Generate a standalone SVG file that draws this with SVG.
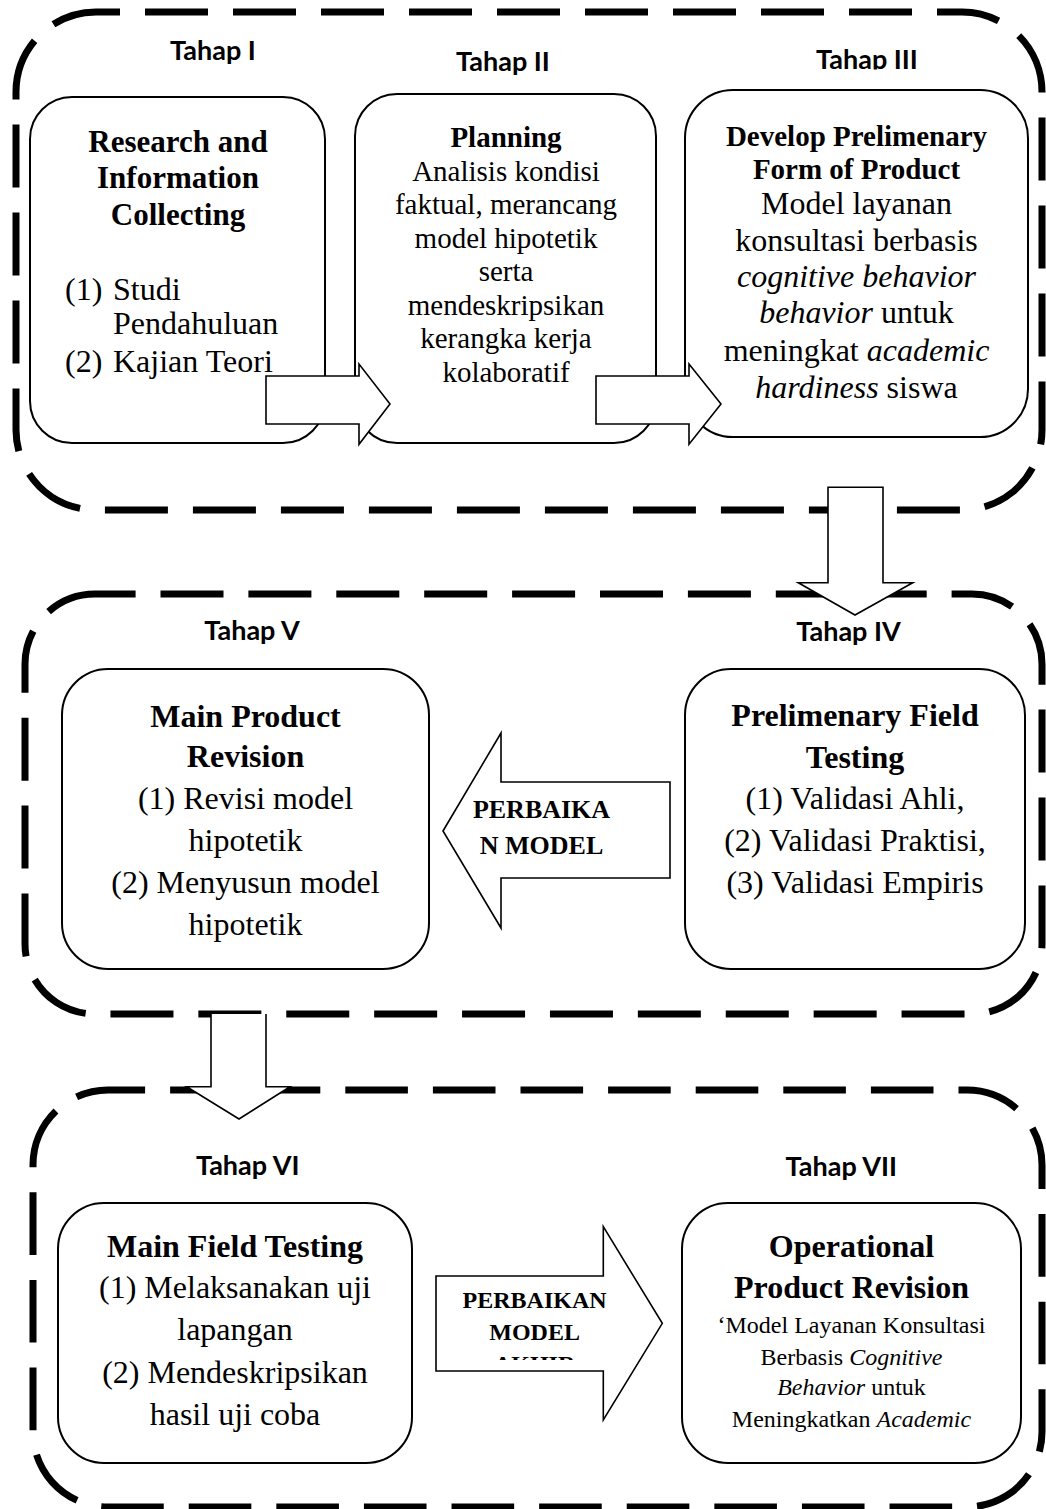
<svg xmlns="http://www.w3.org/2000/svg" width="1046" height="1509" viewBox="0 0 1046 1509">
<style>
.frame{fill:none;stroke:#000;stroke-width:7}
.box{fill:#fff;stroke:#000;stroke-width:2}
.arr{fill:#fff;stroke:#000;stroke-width:1.6;stroke-linejoin:miter}
.lbl{font-family:Lato,"Liberation Sans",sans-serif;font-weight:700;font-size:27px;text-anchor:middle;fill:#000}
.t{font-family:"Liberation Serif","Times New Roman",serif;fill:#000;text-anchor:middle}
.b{font-weight:700}
.i{font-style:italic}
</style>
<defs>
<clipPath id="clipT3"><rect x="780" y="30" width="180" height="39.5"/></clipPath>
<clipPath id="clipA2"><rect x="436" y="1276" width="226" height="84"/></clipPath>
</defs>
<rect width="1046" height="1509" fill="#fff"/>

<g id="frames">
<rect id="frame1" class="frame" x="16" y="12" width="1026" height="498" rx="80" style="stroke-dasharray:63 25;stroke-dashoffset:39"/>
<rect id="frame2" class="frame" x="25" y="594" width="1017" height="420" rx="70" style="stroke-dasharray:63 24.9;stroke-dashoffset:22.4"/>
<rect id="frame3" class="frame" x="33" y="1090" width="1009" height="417" rx="75" style="stroke-dasharray:62.6 25;stroke-dashoffset:25.5"/>
</g>

<g id="labels" class="lbl">
<text x="213" y="60">Tahap I</text>
<text x="503" y="71">Tahap II</text>
<text x="867" y="69" clip-path="url(#clipT3)">Tahap III</text>
<text x="252" y="640">Tahap V</text>
<text x="848.5" y="641">Tahap IV</text>
<text x="247.7" y="1175">Tahap VI</text>
<text x="841.3" y="1176">Tahap VII</text>
</g>

<g id="node1">
<rect class="box" x="30" y="97" width="295" height="346" rx="42"/>
<g class="t b" font-size="31">
<text x="178" y="151.7">Research and</text>
<text x="178" y="188.3">Information</text>
<text x="178" y="225">Collecting</text>
</g>
<g class="t" font-size="32" style="text-anchor:start">
<text x="65" y="300">(1)</text><text x="113" y="300">Studi</text>
<text x="113" y="334">Pendahuluan</text>
<text x="65" y="371.7">(2)</text><text x="113" y="371.7">Kajian Teori</text>
</g>
</g>

<g id="node2">
<rect class="box" x="355" y="94" width="301" height="349" rx="42"/>
<g class="t" font-size="29">
<text class="b" x="506" y="147">Planning</text>
<text x="506" y="180.5">Analisis kondisi</text>
<text x="506" y="214">faktual, merancang</text>
<text x="506" y="247.5">model hipotetik</text>
<text x="506" y="281">serta</text>
<text x="506" y="314.5">mendeskripsikan</text>
<text x="506" y="348">kerangka kerja</text>
<text x="506" y="381.5">kolaboratif</text>
</g>
</g>

<g id="node3">
<rect class="box" x="685" y="90" width="343" height="347" rx="48"/>
<g class="t b" font-size="29">
<text x="856.5" y="145.7">Develop Prelimenary</text>
<text x="856.5" y="179">Form of Product</text>
</g>
<g class="t" font-size="32">
<text x="856.5" y="214.3">Model layanan</text>
<text x="856.5" y="250.7">konsultasi berbasis</text>
<text x="856.5" y="287.3" class="i">cognitive behavior</text>
<text x="856.5" y="323.3"><tspan class="i">behavior</tspan> untuk</text>
<text x="856.5" y="361">meningkat <tspan class="i">academic</tspan></text>
<text x="856.5" y="398.3"><tspan class="i">hardiness</tspan> siswa</text>
</g>
</g>

<g id="node5">
<rect class="box" x="62" y="669" width="367" height="300" rx="46"/>
<g class="t" font-size="32">
<text class="b" x="245.5" y="726.7">Main Product</text>
<text class="b" x="245.5" y="767.3">Revision</text>
<text x="245.5" y="809.3">(1) Revisi model</text>
<text x="245.5" y="851">hipotetik</text>
<text x="245.5" y="893.3">(2) Menyusun model</text>
<text x="245.5" y="935">hipotetik</text>
</g>
</g>

<g id="node4">
<rect class="box" x="685" y="669" width="340" height="300" rx="46"/>
<g class="t" font-size="32">
<text class="b" x="855" y="725.7">Prelimenary Field</text>
<text class="b" x="855" y="768.3">Testing</text>
<text x="855" y="809.3">(1) Validasi Ahli,</text>
<text x="855" y="851">(2) Validasi Praktisi,</text>
<text x="855" y="893.3">(3) Validasi Empiris</text>
</g>
</g>

<g id="node6">
<rect class="box" x="58" y="1203" width="354" height="260" rx="46"/>
<g class="t" font-size="32">
<text class="b" x="235" y="1256.7">Main Field Testing</text>
<text x="235" y="1298.3">(1) Melaksanakan uji</text>
<text x="235" y="1340">lapangan</text>
<text x="235" y="1383.3">(2) Mendeskripsikan</text>
<text x="235" y="1425">hasil uji coba</text>
</g>
</g>

<g id="node7">
<rect class="box" x="682" y="1203" width="339" height="260" rx="46"/>
<g class="t">
<text class="b" font-size="32" x="851.5" y="1256.7">Operational</text>
<text class="b" font-size="32" x="851.5" y="1298.3">Product Revision</text>
<text font-size="24" x="851.5" y="1333.3">‘Model Layanan Konsultasi</text>
<text font-size="24" x="851.5" y="1365">Berbasis <tspan class="i">Cognitive</tspan></text>
<text font-size="24" x="851.5" y="1395"><tspan class="i">Behavior</tspan> untuk</text>
<text font-size="24" x="851.5" y="1427.3">Meningkatkan <tspan class="i">Academic</tspan></text>
</g>
</g>

<g id="connectors">
<polygon class="arr" points="266,376 359,376 359,364 390,404 359,444.3 359,424 266,424"/>
<polygon class="arr" points="596,376 689,376 689,364 721,404 689,444.3 689,424 596,424"/>
<polygon class="arr" points="828,487.3 883,487.3 883,582.7 912.7,582.7 855,615 798.3,582.7 828,582.7"/>
<g id="arrow-perbaikan-model">
<polygon class="arr" points="443,831 501,733 501,782 670,782 670,878 501,878 501,928"/>
<g class="t b" font-size="26">
<text x="541.5" y="818">PERBAIKA</text>
<text x="541.5" y="854">N MODEL</text>
</g>
</g>
<path class="arr" d="M211,1014 V1086.7 H186.7 L239,1119 L290,1086.7 H266 V1014"/>
<g id="arrow-perbaikan-akhir">
<polygon class="arr" points="436,1276 603.3,1276 603.3,1226.7 662.3,1323.3 603.3,1420 603.3,1371 436,1371"/>
<g class="t b" font-size="24" clip-path="url(#clipA2)">
<text x="534.6" y="1308.3">PERBAIKAN</text>
<text x="534.6" y="1340">MODEL</text>
<text x="534.6" y="1372">AKHIR</text>
</g>
</g>
</g>
</svg>
